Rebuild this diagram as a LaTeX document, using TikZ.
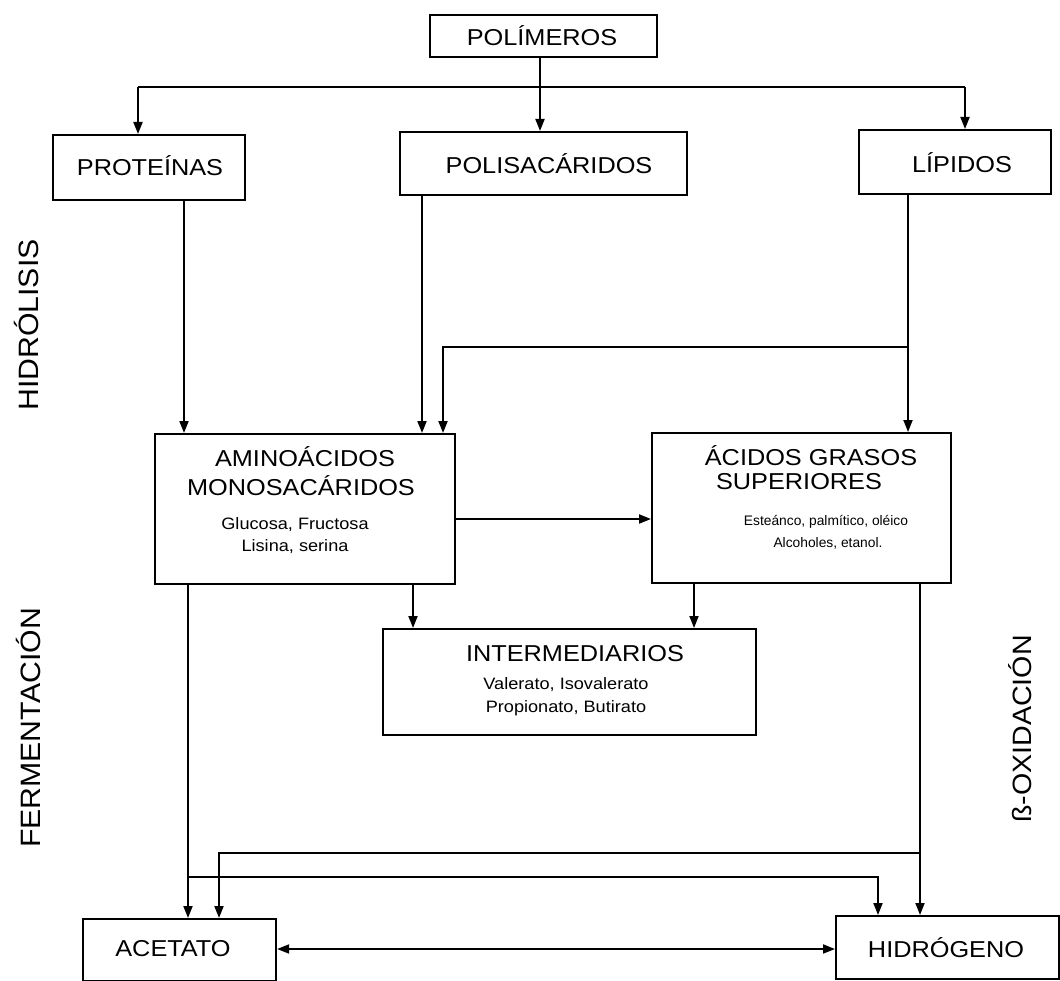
\documentclass[tikz,border=0pt]{standalone}
\usepackage{fontspec}
\setmainfont{Liberation Sans}
\newfontfamily\wfont[FakeStretch=1.1]{Liberation Sans}
\newfontfamily\sfont[FakeStretch=1.08]{Liberation Sans}
\usetikzlibrary{arrows.meta}

\tikzset{
  box/.style={draw, line width=2.1pt, rectangle, inner sep=0pt, anchor=north west},
  lbl/.style={inner sep=0pt, font=\wfont\fontsize{23}{27}\selectfont},
  big/.style={inner sep=0pt, font=\wfont\fontsize{23}{27}\selectfont},
  small/.style={inner sep=0pt, font=\wfont\fontsize{16.5}{19}\selectfont},
  tiny/.style={inner sep=0pt, font=\fontsize{13.8}{16}\selectfont},
  side/.style={inner sep=0pt, rotate=90, font=\sfont\fontsize{28}{32}\selectfont},
  wire/.style={line width=1.8pt},
  arr/.style={line width=1.8pt, -{Triangle[length=12pt,width=9pt]}},
  darr/.style={line width=1.8pt, {Triangle[length=12pt,width=9pt]}-{Triangle[length=12pt,width=9pt]}}
}

\begin{document}
\begin{tikzpicture}[x=1pt,y=-1pt]
\useasboundingbox (0,0) rectangle (1060,981);

% boxes (corner placement, sizes in pt)
\node[box, minimum width=227pt, minimum height=42pt] (pol)  at (429,14) {};
\node[box, minimum width=192pt, minimum height=65pt] (prot) at (52,134) {};
\node[box, minimum width=287pt, minimum height=63pt] (polis) at (399,131) {};
\node[box, minimum width=192pt, minimum height=64pt] (lip)  at (858,129) {};
\node[box, minimum width=300pt, minimum height=150pt] (amino) at (154,433) {};
\node[box, minimum width=299pt, minimum height=150pt] (acid) at (651,432) {};
\node[box, minimum width=373pt, minimum height=106pt] (inter) at (382,628) {};
\node[box, minimum width=193pt, minimum height=62pt] (acet) at (82,918) {};
\node[box, minimum width=223pt, minimum height=63pt] (hidr) at (835,915) {};

% box texts
\node[lbl] (tpol)   at (542,36)  {POLÍMEROS};
\node[lbl] (tprot)  at (150,166) {PROTEÍNAS};
\node[lbl] (tpolis) at (549,164) {POLISACÁRIDOS};
\node[lbl] (tlip)   at (962,163) {LÍPIDOS};

\node[big]   (tam1) at (305,457) {AMINOÁCIDOS};
\node[big]   (tam2) at (301,486) {MONOSACÁRIDOS};
\node[small] (tam3) at (295,525) {Glucosa, Fructosa};
\node[small] (tam4) at (295,547) {Lisina, serina};

\node[big]   (tac1) at (811,456) {ÁCIDOS GRASOS};
\node[big]   (tac2) at (799,482) {SUPERIORES};
\node[tiny]  (tac3) at (826,522) {Esteánco, palmítico, oléico};
\node[tiny]  (tac4) at (828,543) {Alcoholes, etanol.};

\node[big]   (tin1) at (575,654) {INTERMEDIARIOS};
\node[small] (tin2) at (566,685) {Valerato, Isovalerato};
\node[small] (tin3) at (566,708) {Propionato, Butirato};

\node[lbl] (tacet) at (173,949) {ACETATO};
\node[lbl] (thidr) at (946,948) {HIDRÓGENO};

% stage labels
\node[side] (shid) at (26,325)  {HIDRÓLISIS};
\node[side] (sfer) at (28,728)  {FERMENTACIÓN};
\node[side, font=\sfont\fontsize{26.5}{30}\selectfont] (sbox) at (1020,729) {ß-OXIDACIÓN};

% junction points
\coordinate (jm) at (540,87);
\coordinate (jl) at (138,87);
\coordinate (jr) at (965,87);
\coordinate (xp) at (184,0);
\coordinate (xs) at (422,0);
\coordinate (xl) at (908,0);
\coordinate (bl) at (908,347);
\coordinate (bt) at (443,347);
\coordinate (yam) at (0,519);
\coordinate (xa1) at (413,0);
\coordinate (xa2) at (694,0);
\coordinate (xf) at (188,0);
\coordinate (xg) at (920,0);
\coordinate (up) at (920,853);
\coordinate (upl) at (219,853);
\coordinate (lo) at (188,877);
\coordinate (lor) at (878,877);
\coordinate (yd) at (0,949);

% polymers split
\draw[arr] (pol.south -| jm) -- (polis.north -| jm);
\draw[wire] (jl) -- (jr);
\draw[arr] (jl) -- (prot.north -| jl);
\draw[arr] (jr) -- (lip.north -| jr);

% hydrolysis
\draw[arr] (prot.south -| xp) -- (amino.north -| xp);
\draw[arr] (polis.south -| xs) -- (amino.north -| xs);
\draw[arr] (lip.south -| xl) -- (acid.north -| xl);
\draw[arr] (bl) -- (bt) -- (amino.north -| bt);
\draw[arr] (amino.east |- yam) -- (acid.west |- yam);

% to intermediates
\draw[arr] (amino.south -| xa1) -- (inter.north -| xa1);
\draw[arr] (acid.south -| xa2) -- (inter.north -| xa2);

% fermentation and beta-oxidation
\draw[arr] (amino.south -| xf) -- (acet.north -| xf);
\draw[arr] (acid.south -| xg) -- (hidr.north -| xg);
\draw[arr] (up) -- (upl) -- (acet.north -| upl);
\draw[arr] (lo) -- (lor) -- (hidr.north -| lor);
\draw[darr] (acet.east |- yd) -- (hidr.west |- yd);
\end{tikzpicture}
\end{document}
